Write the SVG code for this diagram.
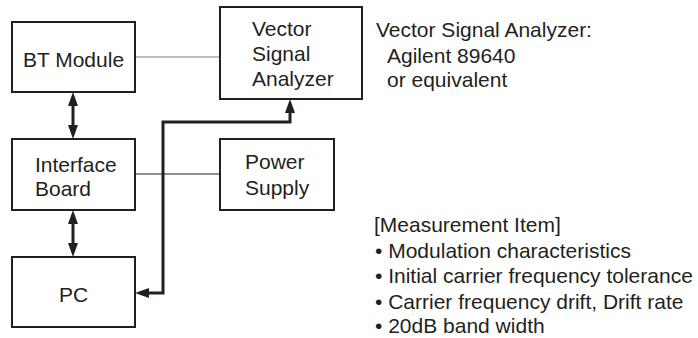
<svg xmlns="http://www.w3.org/2000/svg" width="698" height="338" viewBox="0 0 698 338">
<style>
.box{fill:#fff;stroke:#231f20;stroke-width:2}
.t{font-family:"Liberation Sans",Arial,sans-serif;font-size:21px;fill:#231f20}
.c{text-anchor:middle}
.thin{fill:none;stroke:#231f20;stroke-width:1}
.gray{fill:none;stroke:#808080;stroke-width:1.2}
.thick{fill:none;stroke:#231f20;stroke-width:3}
</style>
<defs>
<marker id="ah" markerUnits="userSpaceOnUse" markerWidth="15" markerHeight="10" refX="9" refY="5" orient="auto-start-reverse">
<path d="M0,0 L14,5 L0,10 z" fill="#231f20"/>
</marker>
</defs>
<g id="connectors">
<line class="gray" x1="135" y1="57" x2="220" y2="57"/>
<line class="thin" x1="135" y1="174" x2="220" y2="174"/>
<line class="thick" x1="73" y1="97" x2="73" y2="134" marker-start="url(#ah)" marker-end="url(#ah)"/>
<line class="thick" x1="73" y1="215" x2="73" y2="252" marker-start="url(#ah)" marker-end="url(#ah)"/>
<path class="thick" d="M140,293 L163,293 L163,122 L290,122 L290,104" marker-start="url(#ah)" marker-end="url(#ah)"/>
</g>
<g id="bt-module">
<rect class="box" x="12" y="22" width="123" height="70"/>
<text class="t c" x="73.5" y="66.5">BT Module</text>
</g>
<g id="vsa">
<rect class="box" x="220" y="7" width="142" height="92"/>
<text class="t" x="252" y="35.5">Vector</text>
<text class="t" x="252" y="60.5">Signal</text>
<text class="t" x="252" y="86">Analyzer</text>
</g>
<g id="interface-board">
<rect class="box" x="12" y="139" width="123" height="71"/>
<text class="t" x="35" y="171.5">Interface</text>
<text class="t" x="35" y="196">Board</text>
</g>
<g id="power-supply">
<rect class="box" x="220" y="139" width="114" height="71"/>
<text class="t" x="245" y="169">Power</text>
<text class="t" x="245" y="194.5">Supply</text>
</g>
<g id="pc">
<rect class="box" x="12" y="257" width="123" height="70"/>
<text class="t c" x="73.5" y="301.5">PC</text>
</g>
<g id="vsa-note">
<text class="t" x="376" y="36.5">Vector Signal Analyzer:</text>
<text class="t" x="387" y="62.5">Agilent 89640</text>
<text class="t" x="387" y="87">or equivalent</text>
</g>
<g id="measurement-items">
<text class="t" x="374" y="232">[Measurement Item]</text>
<text class="t" x="375" y="258">• Modulation characteristics</text>
<text class="t" x="375" y="283">• Initial carrier frequency tolerance</text>
<text class="t" x="375" y="309">• Carrier frequency drift, Drift rate</text>
<text class="t" x="375" y="333">• 20dB band width</text>
</g>
</svg>
